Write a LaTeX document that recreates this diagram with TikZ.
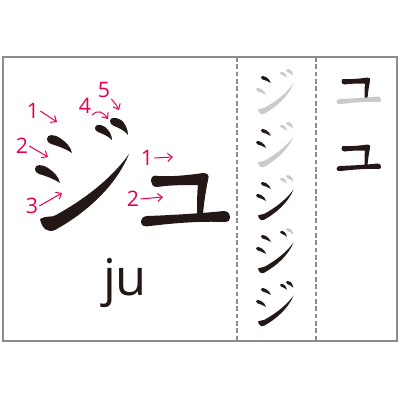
\documentclass[tikz,border=0pt]{standalone}
\usepackage{fontspec}
\setmainfont{Open Sans}
\usetikzlibrary{arrows.meta}
\definecolor{ink}{HTML}{231815}
\definecolor{faint}{HTML}{C9CACA}
\definecolor{strokered}{HTML}{E6004C}
\definecolor{framegray}{HTML}{8C8C8C}

% ji, first #1 strokes in ink, the rest faint
\newcommand\jichar[1]{%
  \ifnum#1>0\relax\colorlet{sA}{ink}\else\colorlet{sA}{faint}\fi
  \ifnum#1>1\relax\colorlet{sB}{ink}\else\colorlet{sB}{faint}\fi
  \ifnum#1>2\relax\colorlet{sC}{ink}\else\colorlet{sC}{faint}\fi
  \ifnum#1>3\relax\colorlet{sD}{ink}\else\colorlet{sD}{faint}\fi
  \ifnum#1>4\relax\colorlet{sE}{ink}\else\colorlet{sE}{faint}\fi
  \fill[sA] (12,21) .. controls (12,16) and (19,16) .. (25,20) .. controls (31,24) and (36,29) .. (37,35) .. controls (31,31) and (23,28) .. (16,26) .. controls (13,25) and (12,23) .. (12,21) -- cycle ;
  \fill[sB] (0,51) .. controls (0,46) and (7,46) .. (13,50) .. controls (19,54) and (24,59) .. (25,65) .. controls (19,61) and (11,58) .. (4,56) .. controls (1,55) and (0,53) .. (0,51) -- cycle ;
  \fill[sC] (5,101) .. controls (11,97) and (17,100) .. (21,97) .. controls (50,81) and (77,60) .. (94,36) .. controls (81,68) and (51,95) .. (20,112) .. controls (13,115) and (7,111) .. (5,101) -- cycle ;
  \fill[sD] (60,10) .. controls (60,6) and (66,6) .. (70,9) .. controls (74,12) and (77,17) .. (77,22) .. controls (73,18) and (68,16) .. (63,14) .. controls (61,13) and (60,12) .. (60,10) -- cycle ;
  \fill[sE] (75,3) .. controls (75,-1) and (81,-1) .. (86,2) .. controls (90,5) and (93,11) .. (93,17) .. controls (89,12) and (84,10) .. (79,8) .. controls (76,7) and (75,5) .. (75,3) -- cycle ;
}
% yu, first #1 strokes in ink
\newcommand\yuchar[1]{%
  \ifnum#1>0\relax\colorlet{sA}{ink}\else\colorlet{sA}{faint}\fi
  \ifnum#1>1\relax\colorlet{sB}{ink}\else\colorlet{sB}{faint}\fi
  \fill[sA] (11,11) .. controls (11,6) and (14,5) .. (18,6) .. controls (30,7) and (50,5) .. (63,3) .. controls (67,3) and (70,5) .. (68,10) .. controls (66,20) and (64,32) .. (63,44) -- (57,44) .. controls (57,34) and (57,24) .. (58,15) .. controls (45,15) and (30,15) .. (17,17) .. controls (13,17) and (11,14) .. (11,11) -- cycle ;
  \fill[sB] (1,52) .. controls (1,48) and (4,46) .. (8,46) .. controls (35,45) and (65,43) .. (84,41) .. controls (88,41) and (90,44) .. (90,48) .. controls (90,51) and (88,52) .. (85,52) .. controls (60,51) and (35,53) .. (10,56) .. controls (5,57) and (1,56) .. (1,52) -- cycle ;
}

\begin{document}
\begin{tikzpicture}[x=0.75pt,y=0.75pt,yscale=-1,xscale=1,
  frame/.style={draw=framegray,line width=1.5pt},
  guide/.style={draw=framegray,line width=0.9pt,dash pattern={on 3.5pt off 2pt}},
  num/.style={text=strokered,font=\fontsize{16}{16}\selectfont,inner sep=0.75pt},
  arr/.style={draw=strokered,line width=0.75pt,-{Straight Barb[length=3.5pt,width=6pt]}}]
\useasboundingbox (0,0) rectangle (400,400);

% frame and guide lines
\draw[guide] (237,57) -- (237,341) ;
\draw[guide] (316,57) -- (316,341) ;
\draw[frame] (3,57) rectangle (397,341) ;

% big characters
\begin{scope}[shift={(35,118)}]
  \jichar{5}
\end{scope}
\begin{scope}[shift={(140,170)}]
  \yuchar{2}
\end{scope}
\node[anchor=base,inner sep=0.75pt,text=ink,font=\fontsize{38}{38}\selectfont] (romaji) at (125,295) {ju};

% practice columns
\foreach \n in {1,...,5}{
  \begin{scope}[shift={(256,16+53*\n)},scale=0.4]
    \jichar{\n}
  \end{scope}
}
\foreach \n in {1,2}{
  \begin{scope}[shift={(336,9+67*\n)},scale=0.5]
    \yuchar{\n}
  \end{scope}
}

% stroke order
\node[num] (jiA) at (33,111) {1};
\node[num] (jiB) at (22,146) {2};
\node[num] (jiC) at (32,206) {3};
\node[num] (jiD) at (85,106) {4};
\node[num] (jiE) at (104,90) {5};
\node[num] (yuA) at (147,158) {1};
\node[num] (yuB) at (133,199) {2};
\coordinate (tjiA) at (57,122);
\coordinate (tjiB) at (48,157);
\coordinate (tjiC) at (62,193);
\coordinate (tjiD) at (108,119);
\coordinate (tjiE) at (119,110);
\coordinate (tyuA) at (173,157);
\coordinate (tyuB) at (163,197);
\draw[arr] (jiA.east) -- (tjiA) ;
\draw[arr] (jiB.east) -- (tjiB) ;
\draw[arr] (jiC.east) -- (tjiC) ;
\draw[arr] (jiD.south east) .. controls (98,109) and (103,112) .. (tjiD) ;
\draw[arr] (jiE.south east) .. controls (112,100) and (116,104) .. (tjiE) ;
\draw[arr] (yuA.east) -- (tyuA) ;
\draw[arr] (yuB.east) -- (tyuB) ;
\end{tikzpicture}
\end{document}
